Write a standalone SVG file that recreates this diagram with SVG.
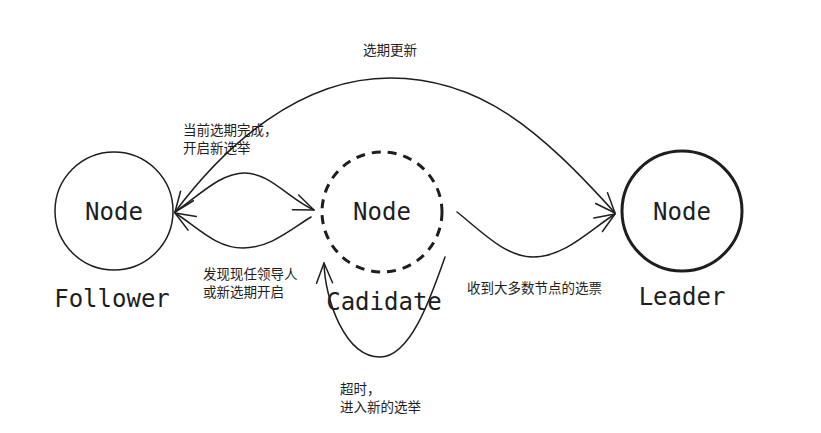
<svg xmlns="http://www.w3.org/2000/svg" width="821" height="433" viewBox="0 0 821 433">
<defs>
<style>
.mono{font-family:"DejaVu Sans Mono","Liberation Mono",monospace;font-size:24px;fill:#1e1e1e;text-anchor:middle}
.lbl{font-family:"Liberation Sans","Noto Sans CJK SC",sans-serif;font-size:13.5px;fill:#1e1e1e}
.conn{fill:none;stroke:#1e1e1e;stroke-width:1.5;stroke-linecap:round;stroke-linejoin:round}
</style>
<marker id="arr" markerUnits="userSpaceOnUse" markerWidth="30" markerHeight="30" refX="0" refY="0" viewBox="-25 -12 30 24" orient="auto-start-reverse">
<path d="M-20,-8 L0,0 L-20,8" fill="none" stroke="#1e1e1e" stroke-width="1.5" stroke-linecap="round" stroke-linejoin="round"/>
</marker>
</defs>
<rect width="821" height="433" fill="#ffffff"/>
<g id="connectors">
<path class="conn" d="M175,212 C225,145 300,78 390,78 C480,78 540,130 615,213" marker-start="url(#arr)" marker-end="url(#arr)"/>
<path class="conn" d="M175,212 C200,195 220,173 245,173 C270,173 290,200 314,210" marker-end="url(#arr)"/>
<path class="conn" d="M311,217 C290,230 270,248 243,248 C215,248 195,225 175,213" marker-end="url(#arr)"/>
<path class="conn" d="M445,257 C430,300 410,357 380,357 C345,357 325,300 324,263" marker-end="url(#arr)"/>
<path class="conn" d="M457,212 C480,230 505,257 533,257 C565,257 590,230 615,214" marker-end="url(#arr)"/>
</g>
<g id="follower">
<circle cx="114" cy="211" r="59" fill="none" stroke="#1e1e1e" stroke-width="1.5"/>
<text class="mono" x="114" y="220">Node</text>
<text class="mono" x="112" y="307">Follower</text>
</g>
<g id="candidate">
<circle cx="382" cy="212" r="60" fill="none" stroke="#1e1e1e" stroke-width="3" stroke-dasharray="9 7"/>
<text class="mono" x="382" y="220">Node</text>
<text class="mono" x="384" y="310">Cadidate</text>
</g>
<g id="leader">
<circle cx="682" cy="211" r="60" fill="none" stroke="#1e1e1e" stroke-width="3"/>
<text class="mono" x="682" y="220">Node</text>
<text class="mono" x="682" y="305">Leader</text>
</g>
<g id="labels">
<text class="lbl" x="363" y="55">选期更新</text>
<text class="lbl" x="183" y="135">当前选期完成，</text>
<text class="lbl" x="183" y="153">开启新选举</text>
<text class="lbl" x="203" y="279">发现现任领导人</text>
<text class="lbl" x="203" y="297">或新选期开启</text>
<text class="lbl" x="467" y="293">收到大多数节点的选票</text>
<text class="lbl" x="340" y="394">超时，</text>
<text class="lbl" x="340" y="412">进入新的选举</text>
</g>
</svg>
